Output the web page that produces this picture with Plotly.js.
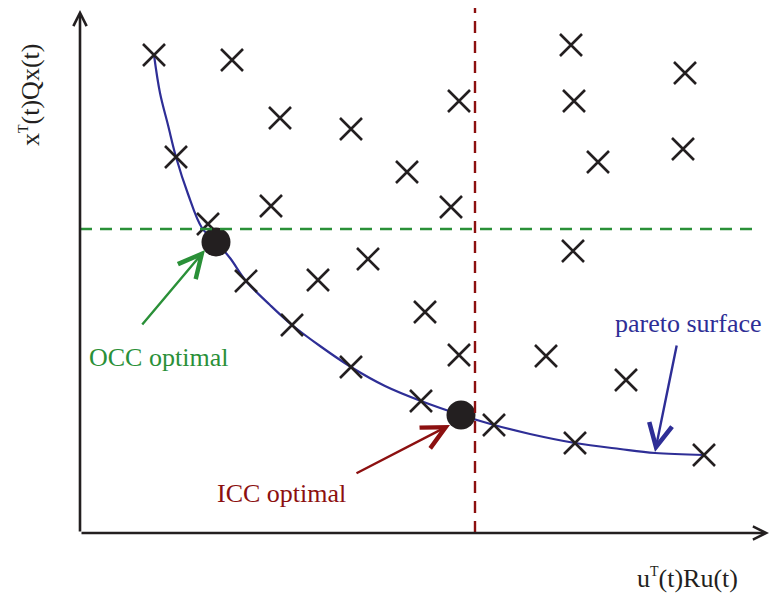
<!DOCTYPE html>
<html>
<head>
<meta charset="utf-8">
<script src="https://cdn.plot.ly/plotly-3.0.1.min.js"></script>
<style>
  html, body { margin: 0; padding: 0; background: #fff; }
  #chart { width: 772px; height: 597px; }
</style>
</head>
<body>
<div id="chart"></div>
<script>
// Candidate operating points (control cost u'Ru, state cost x'Qx)
const candU = [74, 152, 491, 605, 494, 379, 200, 271, 96, 518, 603, 327, 191, 371, 128, 493, 288, 238, 166, 345, 212, 379, 466, 271, 546, 341, 414, 495, 624];
const candX = [478, 473, 488, 460, 432, 432, 415, 404, 376, 371, 384, 361, 327, 326, 309, 282, 274, 253, 252, 221, 208, 178, 177, 166, 153, 132, 108, 90, 78];

// Pareto front traced through the non-dominated points
const paretoU = [74, 80, 88, 96, 108, 122, 136, 150, 166, 190, 212, 240, 271, 305, 341, 381, 414, 450, 495, 540, 575, 624];
const paretoX = [478, 440, 408, 376, 339, 305, 291, 275, 252, 228, 208, 187, 166, 147, 132, 118, 108, 99, 90, 84, 80, 78];

// Optimal points for the two criteria
const optU = [136, 381];
const optX = [291, 118];

// Thresholds for the two criteria
const occLevel = 304;   // horizontal bound on x'Qx
const iccLevel = 395;   // vertical bound on u'Ru

const serif = 'Liberation Serif, Times New Roman, serif';
const blue = '#2e2e96';
const green = '#2a9038';
const red = '#8c1010';
const ink = '#231f20';

const supT = '<sup><span style="font-size:14px">T</span></sup>';

const traces = [
  {
    x: paretoU, y: paretoX, mode: 'lines', type: 'scatter',
    line: { color: blue, width: 2.2, shape: 'spline', smoothing: 1 },
    hoverinfo: 'skip'
  },
  {
    x: candU, y: candX, mode: 'markers', type: 'scatter',
    marker: { symbol: 'x-thin', size: 22, color: ink, line: { color: ink, width: 2.6 } },
    hoverinfo: 'skip'
  },
  {
    x: optU, y: optX, mode: 'markers', type: 'scatter',
    marker: { symbol: 'circle', size: 29, color: ink },
    hoverinfo: 'skip'
  }
];

const shapes = [
  { type: 'line', xref: 'x', yref: 'y', x0: 0, x1: 672, y0: occLevel, y1: occLevel,
    line: { color: green, width: 2.4, dash: '12px,8px' } },
  { type: 'line', xref: 'x', yref: 'y', x0: iccLevel, x1: iccLevel, y0: 0, y1: 525,
    line: { color: red, width: 2.4, dash: '12px,8px' } }
];

function arrow(x, y, ax, ay, color, w, size) {
  return { x: x, y: y, ax: ax, ay: ay, xref: 'x', yref: 'y', axref: 'x', ayref: 'y',
    text: '', showarrow: true, arrowhead: 5, arrowsize: size, arrowwidth: w, arrowcolor: color,
    standoff: 0, startstandoff: 0 };
}

const annotations = [
  // axes with arrowheads
  arrow(0, 523, 0, 0, ink, 2.6, 1.0),
  arrow(689, 0, 0, 0, ink, 2.6, 1.0),
  // pointers
  arrow(125, 283, 61, 207, green, 2.4, 1.9),
  arrow(370, 108, 275, 59, red, 2.4, 1.9),
  arrow(575, 81, 597, 189, blue, 2.4, 1.9),
  // labels
  { x: 78, y: 176, xref: 'x', yref: 'y', text: 'OCC optimal', showarrow: false,
    font: { family: serif, size: 26, color: green } },
  { x: 201, y: 40, xref: 'x', yref: 'y', text: 'ICC optimal', showarrow: false,
    font: { family: serif, size: 26, color: red } },
  { x: 608, y: 210, xref: 'x', yref: 'y', text: 'pareto surface', showarrow: false,
    font: { family: serif, size: 26, color: blue } },
  { x: 607, y: -45, xref: 'x', yref: 'y', text: 'u' + supT + '(t)Ru(t)', showarrow: false,
    font: { family: serif, size: 26, color: ink } },
  { x: -50, y: 438, xref: 'x', yref: 'y', text: 'x' + supT + '(t)Qx(t)', showarrow: false,
    textangle: -90, font: { family: serif, size: 26, color: ink } }
];

const layout = {
  width: 772, height: 597,
  margin: { l: 0, r: 0, t: 0, b: 0 },
  paper_bgcolor: '#ffffff', plot_bgcolor: '#ffffff',
  showlegend: false,
  xaxis: { range: [-80, 692], visible: false, fixedrange: true },
  yaxis: { range: [-64, 533], visible: false, fixedrange: true },
  shapes: shapes,
  annotations: annotations
};

Plotly.newPlot('chart', traces, layout, { displayModeBar: false, staticPlot: true });
</script>
</body>
</html>
